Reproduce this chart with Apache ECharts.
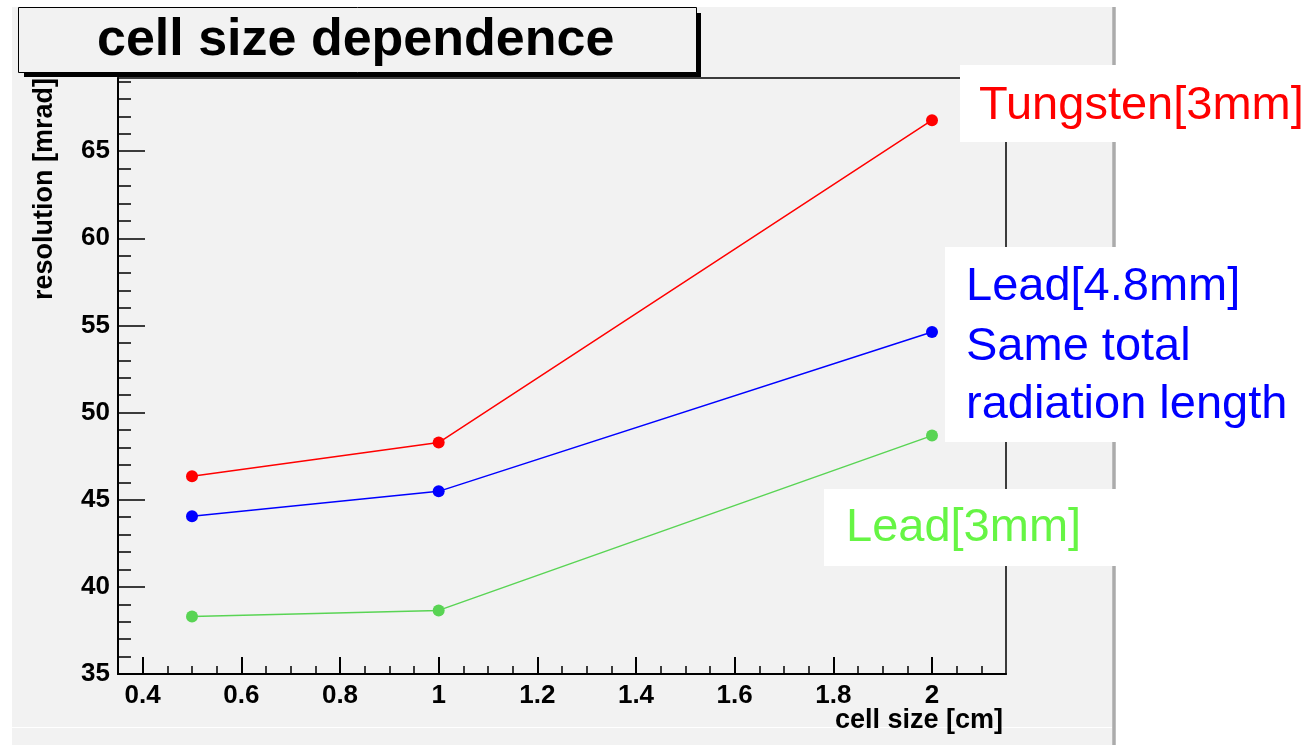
<!DOCTYPE html>
<html>
<head>
<meta charset="utf-8">
<title>cell size dependence</title>
<script src="https://cdn.jsdelivr.net/npm/echarts@6/dist/echarts.min.js"></script>
<style>
  html, body { margin: 0; padding: 0; background: #ffffff; }
  #chart { width: 1314px; height: 745px; }
</style>
</head>
<body>
<div id="chart"></div>
<script>
// cell size in cm
const cellSizes = [0.5, 1, 2];

// angular resolution in mrad for each absorber configuration
const tungsten3mm = [46.35, 48.28, 66.78];
const lead48mm   = [44.05, 45.48, 54.62];
const lead3mm    = [38.30, 38.65, 48.68];

// axis tick positions
const xMajorTicks = [0.4, 0.6, 0.8, 1.0, 1.2, 1.4, 1.6, 1.8, 2.0];
const xMinorTicks = [0.45, 0.5, 0.55, 0.65, 0.7, 0.75, 0.85, 0.9, 0.95,
                     1.05, 1.1, 1.15, 1.25, 1.3, 1.35, 1.45, 1.5, 1.55,
                     1.65, 1.7, 1.75, 1.85, 1.9, 1.95, 2.05, 2.1];
const yMajorTicks = [35, 40, 45, 50, 55, 60, 65];
const yMinorTicks = [36, 37, 38, 39, 41, 42, 43, 44, 46, 47, 48, 49,
                     51, 52, 53, 54, 56, 57, 58, 59, 61, 62, 63, 64,
                     66, 67, 68, 69];

const FONT = '"Liberation Sans", Arial, Helvetica, sans-serif';
const PAD_GRAY = '#f2f2f2';

const chart = echarts.init(document.getElementById('chart'), null, { renderer: 'canvas' });

const tickLabel = {
  color: '#000', fontFamily: FONT, fontWeight: 'bold', fontSize: 26
};

function fmt(v) { return String(+(+v).toFixed(2)); }

function seriesOf(name, values, color) {
  return {
    name: name,
    type: 'line',
    xAxisIndex: 0,
    yAxisIndex: 0,
    data: cellSizes.map((x, i) => [x, values[i]]),
    symbol: 'circle',
    symbolSize: 12,
    showSymbol: true,
    itemStyle: { color: color },
    lineStyle: { color: color, width: 1.5 },
    animation: false,
    z: 3
  };
}

// text placed by its top edge
function label(x, y, text, color, font, align, extra) {
  return Object.assign({
    type: 'text', z: 61, silent: true, x: x, y: y,
    style: { text: text, fill: color, font: font, align: align || 'left', verticalAlign: 'top' }
  }, extra || {});
}

const option = {
  backgroundColor: '#ffffff',
  animation: false,
  grid: {
    left: 118, right: 308, top: 78, bottom: 71,
    show: true,
    borderColor: '#000',
    borderWidth: 1.5,
    backgroundColor: 'transparent'
  },
  xAxis: [
    {
      type: 'value', min: 0.35, max: 2.15,
      axisLine: { show: true, onZero: false, lineStyle: { color: '#000', width: 2 } },
      axisTick: { show: true, inside: true, length: 17, customValues: xMajorTicks,
                  lineStyle: { color: '#000', width: 2 } },
      axisLabel: { show: true, customValues: xMajorTicks, margin: 9,
                   formatter: fmt, ...tickLabel },
      splitLine: { show: false }
    },
    {
      type: 'value', min: 0.35, max: 2.15, position: 'bottom',
      axisLine: { show: false, onZero: false },
      axisTick: { show: true, inside: true, length: 8, customValues: xMinorTicks,
                  lineStyle: { color: '#000', width: 1.5 } },
      axisLabel: { show: false },
      splitLine: { show: false }
    }
  ],
  yAxis: [
    {
      type: 'value', min: 35, max: 69.2,
      axisLine: { show: true, onZero: false, lineStyle: { color: '#000', width: 2 } },
      axisTick: { show: true, inside: true, length: 27, customValues: yMajorTicks,
                  lineStyle: { color: '#000', width: 1.5 } },
      axisLabel: { show: true, customValues: yMajorTicks, margin: 8,
                   formatter: fmt, ...tickLabel },
      splitLine: { show: false }
    },
    {
      type: 'value', min: 35, max: 69.2, position: 'left',
      axisLine: { show: false, onZero: false },
      axisTick: { show: true, inside: true, length: 13, customValues: yMinorTicks,
                  lineStyle: { color: '#000', width: 1.5 } },
      axisLabel: { show: false },
      splitLine: { show: false }
    }
  ],
  series: [
    seriesOf('Lead[3mm]', lead3mm, '#59d454'),
    seriesOf('Lead[4.8mm]', lead48mm, '#0000ff'),
    seriesOf('Tungsten[3mm]', tungsten3mm, '#ff0000')
  ],
  graphic: [
    // pad background
    { type: 'rect', z: -100, silent: true,
      shape: { x: 12, y: 7, width: 1101, height: 738 },
      style: { fill: PAD_GRAY } },
    { type: 'line', z: -90, silent: true,
      shape: { x1: 12, y1: 727.5, x2: 1112, y2: 727.5 },
      style: { stroke: '#ffffff', lineWidth: 1 } },
    { type: 'line', z: -90, silent: true,
      shape: { x1: 1114, y1: 7, x2: 1114, y2: 745 },
      style: { stroke: '#ababab', lineWidth: 3.5 } },

    // title box with shadow
    { type: 'rect', z: 50, silent: true,
      shape: { x: 24, y: 13, width: 677, height: 64 },
      style: { fill: '#000' } },
    { type: 'rect', z: 51, silent: true,
      shape: { x: 18.5, y: 7.5, width: 678, height: 65 },
      style: { fill: PAD_GRAY, stroke: '#000', lineWidth: 1 } },
    label(97, 15, 'cell size dependence', '#000', 'bold 52px ' + FONT, 'left', { z: 52 }),

    // axis titles
    label(1003, 707, 'cell size [cm]', '#000', 'bold 27px ' + FONT, 'right', { z: 20 }),
    label(31, 78, 'resolution [mrad]', '#000', 'bold 27px ' + FONT, 'right',
          { z: 20, rotation: Math.PI / 2 }),

    // Tungsten label
    { type: 'rect', z: 60, silent: true,
      shape: { x: 960, y: 65, width: 360, height: 77 },
      style: { fill: '#ffffff' } },
    label(979, 83, 'Tungsten[3mm]', '#ff0000', '47px ' + FONT),

    // Lead 4.8mm label
    { type: 'rect', z: 60, silent: true,
      shape: { x: 945, y: 247, width: 375, height: 195 },
      style: { fill: '#ffffff' } },
    label(966, 264, 'Lead[4.8mm]', '#0000ff', '47px ' + FONT),
    label(966, 324, 'Same total', '#0000ff', '47px ' + FONT),
    label(966, 382, 'radiation length', '#0000ff', '47px ' + FONT),

    // Lead 3mm label
    { type: 'rect', z: 60, silent: true,
      shape: { x: 824, y: 489, width: 292, height: 77 },
      style: { fill: '#ffffff' } },
    label(846, 505, 'Lead[3mm]', '#66f544', '47px ' + FONT)
  ]
};

chart.setOption(option);
</script>
</body>
</html>
